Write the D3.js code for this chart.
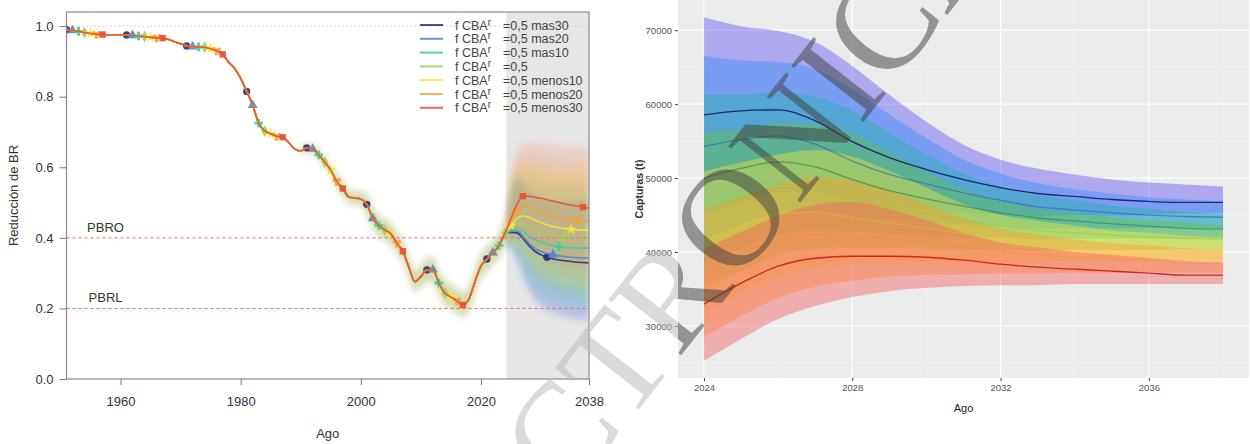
<!DOCTYPE html>
<html>
<head>
<meta charset="utf-8">
<script src="https://cdn.jsdelivr.net/npm/d3@7"></script>
<style>
  html, body { margin: 0; padding: 0; background: #fff; }
  svg { display: block; }
</style>
</head>
<body>
<svg id="chart" width="1250" height="444"></svg>
<script>
// ---------------- Data: relative spawning biomass (left panel) ----------------
const histYears = d3.range(1951, 2025);
const histValues = [
  0.990, 0.988, 0.985, 0.982, 0.979, 0.977, 0.976, 0.975, 0.975, 0.975,
  0.975, 0.974, 0.972, 0.970, 0.968, 0.967, 0.966, 0.962, 0.956, 0.950,
  0.944, 0.942, 0.941, 0.940, 0.936, 0.930, 0.920, 0.898, 0.880, 0.852,
  0.815, 0.776, 0.725, 0.703, 0.695, 0.688, 0.685, 0.670, 0.652, 0.646,
  0.655, 0.652, 0.635, 0.615, 0.592, 0.560, 0.540, 0.516, 0.513, 0.510,
  0.495, 0.455, 0.435, 0.422, 0.412, 0.385, 0.362, 0.317, 0.276, 0.290,
  0.309, 0.310, 0.272, 0.244, 0.232, 0.222, 0.210, 0.226, 0.275, 0.320,
  0.340, 0.358, 0.378, 0.412
];

// uncertainty band around the assessed history (1990-2024)
const histBandYears = d3.range(1990, 2025);
const histBandLow = [
  0.634, 0.643, 0.640, 0.623, 0.603, 0.580, 0.540, 0.520, 0.496, 0.493,
  0.492, 0.465, 0.425, 0.405, 0.392, 0.382, 0.355, 0.332, 0.287, 0.246,
  0.260, 0.274, 0.275, 0.237, 0.209, 0.197, 0.187, 0.175, 0.191, 0.240,
  0.285, 0.305, 0.323, 0.343, 0.377
];
const histBandHigh = [
  0.658, 0.667, 0.664, 0.647, 0.627, 0.604, 0.580, 0.560, 0.536, 0.533,
  0.532, 0.525, 0.485, 0.465, 0.452, 0.442, 0.415, 0.392, 0.347, 0.306,
  0.320, 0.344, 0.345, 0.307, 0.279, 0.267, 0.257, 0.245, 0.261, 0.310,
  0.355, 0.375, 0.393, 0.413, 0.447
];

// projections 2024-2038 for each harvest scenario
const projYears = d3.range(2024, 2039);
const brMas30   = [0.412, 0.415, 0.414, 0.398, 0.378, 0.362, 0.352, 0.345, 0.340, 0.337, 0.335, 0.333, 0.331, 0.330, 0.329];
const brMas20   = [0.412, 0.418, 0.420, 0.405, 0.385, 0.370, 0.362, 0.356, 0.352, 0.349, 0.347, 0.345, 0.344, 0.343, 0.343];
const brMas10   = [0.412, 0.422, 0.428, 0.420, 0.405, 0.395, 0.388, 0.382, 0.378, 0.375, 0.373, 0.372, 0.371, 0.371, 0.371];
const brBase    = [0.412, 0.428, 0.440, 0.440, 0.432, 0.424, 0.417, 0.412, 0.408, 0.405, 0.403, 0.402, 0.401, 0.400, 0.400];
const brMenos10 = [0.412, 0.435, 0.455, 0.462, 0.458, 0.450, 0.443, 0.437, 0.432, 0.429, 0.426, 0.424, 0.423, 0.422, 0.422];
const brMenos20 = [0.412, 0.445, 0.475, 0.490, 0.488, 0.482, 0.475, 0.468, 0.462, 0.457, 0.453, 0.450, 0.448, 0.447, 0.446];
const brMenos30 = [0.412, 0.455, 0.495, 0.518, 0.518, 0.515, 0.512, 0.508, 0.504, 0.500, 0.496, 0.493, 0.490, 0.487, 0.484];

const brLowMas30   = [0.382, 0.365, 0.334, 0.288, 0.248, 0.222, 0.204, 0.192, 0.183, 0.177, 0.173, 0.169, 0.166, 0.164, 0.163];
const brLowMas20   = [0.382, 0.368, 0.340, 0.295, 0.255, 0.230, 0.214, 0.203, 0.195, 0.189, 0.185, 0.181, 0.179, 0.177, 0.177];
const brLowMas10   = [0.382, 0.372, 0.348, 0.310, 0.275, 0.255, 0.240, 0.229, 0.221, 0.215, 0.211, 0.208, 0.206, 0.205, 0.205];
const brLowBase    = [0.382, 0.378, 0.360, 0.330, 0.302, 0.284, 0.269, 0.259, 0.251, 0.245, 0.241, 0.238, 0.236, 0.234, 0.234];
const brLowMenos10 = [0.382, 0.385, 0.375, 0.352, 0.328, 0.310, 0.295, 0.284, 0.275, 0.269, 0.264, 0.260, 0.258, 0.256, 0.256];
const brLowMenos20 = [0.382, 0.395, 0.395, 0.380, 0.358, 0.342, 0.327, 0.315, 0.305, 0.297, 0.291, 0.286, 0.283, 0.281, 0.280];
const brLowMenos30 = [0.382, 0.405, 0.415, 0.408, 0.388, 0.375, 0.364, 0.355, 0.347, 0.340, 0.334, 0.329, 0.325, 0.321, 0.318];

const brHighMas30   = [0.442, 0.535, 0.564, 0.548, 0.530, 0.517, 0.509, 0.505, 0.502, 0.501, 0.501, 0.501, 0.501, 0.501, 0.501];
const brHighMas20   = [0.442, 0.538, 0.570, 0.555, 0.537, 0.525, 0.519, 0.516, 0.514, 0.513, 0.513, 0.513, 0.514, 0.514, 0.515];
const brHighMas10   = [0.442, 0.542, 0.578, 0.570, 0.557, 0.550, 0.545, 0.542, 0.540, 0.539, 0.539, 0.540, 0.541, 0.542, 0.543];
const brHighBase    = [0.442, 0.548, 0.590, 0.590, 0.584, 0.579, 0.574, 0.572, 0.570, 0.569, 0.569, 0.570, 0.571, 0.571, 0.572];
const brHighMenos10 = [0.442, 0.555, 0.605, 0.612, 0.610, 0.605, 0.600, 0.597, 0.594, 0.593, 0.592, 0.592, 0.593, 0.593, 0.594];
const brHighMenos20 = [0.442, 0.565, 0.625, 0.640, 0.640, 0.637, 0.632, 0.628, 0.624, 0.621, 0.619, 0.618, 0.618, 0.618, 0.618];
const brHighMenos30 = [0.442, 0.575, 0.645, 0.668, 0.670, 0.670, 0.669, 0.668, 0.666, 0.664, 0.662, 0.661, 0.660, 0.658, 0.656];

const refLevels = [0.4, 0.2];
const refLabels = ["PBRO", "PBRL"];
const xTicksLeft = [1960, 1980, 2000, 2020, 2038];
const yTicksLeft = [0, 0.2, 0.4, 0.6, 0.8, 1.0];

// ---------------- Data: projected catches (right panel) ----------------
const catchYears = d3.range(2024, 2039);
const catchMas30   = [58550, 59090, 59230, 57740, 54920, 52760, 51150, 49800, 48720, 47910, 47510, 47100, 46840, 46700, 46700];
const catchMas20   = [54300, 55200, 55700, 54600, 52300, 50500, 49200, 48000, 47000, 46100, 45700, 45300, 45000, 44800, 44700];
const catchMas10   = [50000, 51300, 52200, 51500, 49800, 48300, 47200, 46200, 45300, 44600, 44200, 43800, 43500, 43200, 43100];
const catchBase    = [45800, 47400, 48700, 48400, 47200, 46100, 45200, 44300, 43500, 42900, 42600, 42300, 42000, 41800, 41700];
const catchMenos10 = [41500, 43600, 45100, 45400, 44600, 43900, 43200, 42500, 41800, 41300, 41000, 40600, 40400, 40100, 40100];
const catchMenos20 = [37200, 39700, 41600, 42300, 42000, 41700, 41300, 40700, 40100, 39600, 39300, 39000, 38800, 38500, 38500];
const catchMenos30 = [32960, 35790, 38080, 39160, 39430, 39430, 39290, 38890, 38350, 37950, 37680, 37410, 37140, 36870, 36870];

const catchLowMas30   = [44900, 46600, 48100, 48200, 47200, 46400, 45700, 45300, 45100, 44800, 45000, 44900, 45000, 45200, 45200];
const catchLowMas20   = [41700, 43600, 45300, 45600, 45000, 44500, 44000, 43700, 43500, 43100, 43200, 43200, 43200, 43300, 43200];
const catchLowMas10   = [38400, 40500, 42400, 43000, 42800, 42500, 42200, 42000, 42000, 41700, 41800, 41800, 41800, 41800, 41700];
const catchLowBase    = [35100, 37400, 39600, 40400, 40600, 40600, 40400, 40300, 40300, 40200, 40300, 40300, 40300, 40400, 40300];
const catchLowMenos10 = [31800, 34400, 36600, 37900, 38400, 38600, 38600, 38700, 38700, 38700, 38800, 38700, 38800, 38800, 38800];
const catchLowMenos20 = [28500, 31300, 33800, 35300, 36100, 36700, 36900, 37000, 37100, 37100, 37200, 37200, 37300, 37200, 37200];
const catchLowMenos30 = [25290, 28250, 30940, 32690, 33910, 34710, 35120, 35390, 35520, 35520, 35660, 35660, 35660, 35660, 35660];

const catchHighMas30   = [71750, 70540, 69870, 68380, 65150, 61250, 57610, 54510, 52490, 51280, 50470, 49800, 49390, 49120, 48860];
const catchHighMas20   = [66500, 65900, 65700, 64700, 62000, 58600, 55400, 52500, 50600, 49300, 48500, 47900, 47400, 47100, 46800];
const catchHighMas10   = [61300, 61200, 61600, 61000, 59100, 56100, 53200, 50600, 48800, 47700, 47000, 46300, 45900, 45400, 45100];
const catchHighBase    = [56100, 56600, 57400, 57300, 56000, 53500, 50900, 48500, 46900, 45900, 45300, 44700, 44300, 44000, 43600];
const catchHighMenos10 = [50900, 52100, 53200, 53800, 52900, 51000, 48700, 46500, 45000, 44200, 43600, 42900, 42600, 42200, 42000];
const catchHighMenos20 = [45600, 47400, 49100, 50100, 49800, 48400, 46500, 44600, 43200, 42400, 41700, 41200, 40900, 40500, 40300];
const catchHighMenos30 = [40400, 42700, 44900, 46400, 46800, 45800, 44300, 42600, 41300, 40600, 40000, 39600, 39200, 38800, 38600];

const xTicksRight = [2024, 2028, 2032, 2036];
const xMinorRight = [2026, 2030, 2034, 2038];
const yTicksRight = [30000, 40000, 50000, 60000, 70000];
const yMinorRight = [25000, 35000, 45000, 55000, 65000];

// ---------------- Scenario metadata ----------------
const scenarioKeys = ["mas30", "mas20", "mas10", "base", "menos10", "menos20", "menos30"];
const legendSuffix = ["=0,5 mas30", "=0,5 mas20", "=0,5 mas10", "=0,5", "=0,5 menos10", "=0,5 menos20", "=0,5 menos30"];
const leftColors  = ["#2b2d7c", "#4a86d4", "#33d1a3", "#9ad45c", "#efe83a", "#f5a234", "#e5512f"];
const fanColors   = ["#3a40d0", "#3a8ae0", "#2cc8b0", "#86cc44", "#f0e040", "#f7a030", "#f06040"];
const bandColors  = ["#5a4ff5", "#2f8cf5", "#1fb3a6", "#66c23d", "#f5e63a", "#fb9a2a", "#f55a5a"];
const rightLines  = ["#1c1f6e", "#2b5fb5", "#2e8b57", "#8cbf3f", "#e6d32e", "#f0962a", "#c8221a"];
const rightLineOpacity = [0.95, 0.6, 0.7, 0.35, 0.3, 0.35, 0.95];
const markerShapes = [d3.symbolCircle, d3.symbolTriangle, d3.symbolCross, d3.symbolDiamond,
                      d3.symbolStar, d3.symbolWye, d3.symbolSquare];

const brProj  = [brMas30, brMas20, brMas10, brBase, brMenos10, brMenos20, brMenos30];
const brLow   = [brLowMas30, brLowMas20, brLowMas10, brLowBase, brLowMenos10, brLowMenos20, brLowMenos30];
const brHigh  = [brHighMas30, brHighMas20, brHighMas10, brHighBase, brHighMenos10, brHighMenos20, brHighMenos30];
const catchMid  = [catchMas30, catchMas20, catchMas10, catchBase, catchMenos10, catchMenos20, catchMenos30];
const catchLow  = [catchLowMas30, catchLowMas20, catchLowMas10, catchLowBase, catchLowMenos10, catchLowMenos20, catchLowMenos30];
const catchHigh = [catchHighMas30, catchHighMas20, catchHighMas10, catchHighBase, catchHighMenos10, catchHighMenos20, catchHighMenos30];

const watermarkText = "ELECTRONICA";

// ---------------- Drawing ----------------
const svg = d3.select("#chart");
const defs = svg.append("defs");
defs.append("filter").attr("id", "soft")
  .attr("x", "-10%").attr("y", "-10%").attr("width", "120%").attr("height", "120%")
  .append("feGaussianBlur").attr("stdDeviation", 3);
defs.append("clipPath").attr("id", "clipLeftPlot")
  .append("rect").attr("x", 66).attr("y", 12).attr("width", 523).attr("height", 367);

const sansFont = "'Liberation Sans', Arial, sans-serif";

// ===== Left panel =====
const L = { left: 66.5, right: 589, top: 12, bottom: 379 };
const xL = d3.scaleLinear().domain([1951, 2038]).range([L.left, L.right]);
const yL = d3.scaleLinear().domain([0, 1.04]).range([L.bottom, L.top]);
const gL = svg.append("g");

// projection period shading
const projShadeStart = 2024.25;
gL.append("rect")
  .attr("x", xL(projShadeStart)).attr("y", L.top)
  .attr("width", xL(2038) - xL(projShadeStart)).attr("height", L.bottom - L.top)
  .attr("fill", "#e6e6e6");

// dotted line at the unfished level
gL.append("line")
  .attr("x1", L.left).attr("x2", L.right).attr("y1", yL(1)).attr("y2", yL(1))
  .attr("stroke", "#c8c8c8").attr("stroke-dasharray", "1.5,2.5");

const plotL = gL.append("g").attr("clip-path", "url(#clipLeftPlot)");

// historical uncertainty band
const histBandArea = d3.area()
  .x((d, i) => xL(histBandYears[i]))
  .y0((d, i) => yL(histBandLow[i]))
  .y1((d, i) => yL(histBandHigh[i]))
  .curve(d3.curveMonotoneX);
plotL.append("path").datum(histBandYears)
  .attr("d", histBandArea)
  .attr("fill", "#b4be70").attr("opacity", 0.55)
  .attr("filter", "url(#soft)");

// projection fans
const fanG = plotL.append("g").attr("filter", "url(#soft)");
scenarioKeys.forEach((k, s) => {
  const area = d3.area()
    .x((d, i) => xL(projYears[i]))
    .y0((d, i) => yL(brLow[s][i]))
    .y1((d, i) => yL(brHigh[s][i]))
    .curve(d3.curveMonotoneX);
  fanG.append("path").datum(projYears)
    .attr("d", area).attr("fill", fanColors[s]).attr("opacity", 0.16);
});

// reference points
refLevels.forEach((v, i) => {
  gL.append("line")
    .attr("x1", L.left).attr("x2", L.right).attr("y1", yL(v)).attr("y2", yL(v))
    .attr("stroke", "#e06a6a").attr("stroke-width", 1).attr("stroke-dasharray", "3,3");
  gL.append("text")
    .attr("x", xL(1957.5)).attr("y", yL(v) - 6)
    .attr("font-family", sansFont).attr("font-size", 13).attr("fill", "#333")
    .attr("text-anchor", "middle").text(refLabels[i]);
});

// scenario lines (history + projection) and markers
const lineL = d3.line().x(d => xL(d[0])).y(d => yL(d[1])).curve(d3.curveMonotoneX);
scenarioKeys.forEach((k, s) => {
  const pts = histYears.map((yr, i) => [yr, histValues[i]])
    .concat(projYears.slice(1).map((yr, i) => [yr, brProj[s][i + 1]]));
  plotL.append("path").datum(pts)
    .attr("d", lineL).attr("fill", "none")
    .attr("stroke", leftColors[s]).attr("stroke-width", 1.6).attr("opacity", 0.9);
  const lookup = new Map(pts);
  const sym = d3.symbol().type(markerShapes[s]).size(42);
  d3.range(1951 + s, 2039, 10).forEach(yr => {
    plotL.append("path")
      .attr("d", sym)
      .attr("transform", `translate(${xL(yr)},${yL(lookup.get(yr))})`)
      .attr("fill", leftColors[s]).attr("opacity", 0.9);
  });
});

// frame
gL.append("rect")
  .attr("x", L.left).attr("y", L.top).attr("width", L.right - L.left).attr("height", L.bottom - L.top)
  .attr("fill", "none").attr("stroke", "#8a8a8a").attr("stroke-width", 1.2);

// axes
const axB = gL.append("g").attr("transform", `translate(0,${L.bottom})`)
  .call(d3.axisBottom(xL).tickValues(xTicksLeft).tickFormat(d3.format("d")).tickSize(6).tickPadding(12));
const axLft = gL.append("g").attr("transform", `translate(${L.left},0)`)
  .call(d3.axisLeft(yL).tickValues(yTicksLeft).tickFormat(d3.format(".1f")).tickSize(7).tickPadding(6));
[axB, axLft].forEach(ax => {
  ax.select(".domain").remove();
  ax.selectAll(".tick line").attr("stroke", "#777");
  ax.selectAll(".tick text").attr("font-family", sansFont).attr("font-size", 13).attr("fill", "#333");
});

gL.append("text")
  .attr("x", (L.left + L.right) / 2).attr("y", 438)
  .attr("text-anchor", "middle").attr("font-family", sansFont).attr("font-size", 13).attr("fill", "#333")
  .text("Ago");
gL.append("text")
  .attr("transform", `translate(18,${(L.top + L.bottom) / 2}) rotate(-90)`)
  .attr("text-anchor", "middle").attr("font-family", sansFont).attr("font-size", 13).attr("fill", "#333")
  .text("Reducción de BR");

// legend
const legG = gL.append("g");
scenarioKeys.forEach((k, s) => {
  const yRow = 25 + s * 13.8;
  legG.append("line")
    .attr("x1", 420).attr("x2", 443).attr("y1", yRow).attr("y2", yRow)
    .attr("stroke", leftColors[s]).attr("stroke-width", 2).attr("opacity", 0.85);
  const t = legG.append("text")
    .attr("x", 455).attr("y", yRow + 4.5)
    .attr("font-family", sansFont).attr("font-size", 12.5).attr("fill", "#444");
  t.append("tspan").text("f CBA");
  t.append("tspan").attr("dy", -4).attr("font-size", 10).text("r");
  legG.append("text")
    .attr("x", 503).attr("y", yRow + 4.5)
    .attr("font-family", sansFont).attr("font-size", 12.5).attr("fill", "#444")
    .text(legendSuffix[s]);
});

// ===== Right panel =====
const R = { left: 678, right: 1249, top: 0, bottom: 378 };
const xR = d3.scaleLinear()
  .domain([d3.min(catchYears) - 0.7, d3.max(catchYears) + 0.7])
  .range([R.left, R.right]);
const cMin = d3.min(catchLow.flat()), cMax = d3.max(catchHigh.flat());
const pad = (cMax - cMin) * 0.05;
const yR = d3.scaleLinear().domain([cMin - pad, cMax + pad]).range([R.bottom, R.top]);
const gR = svg.append("g");

gR.append("rect")
  .attr("x", R.left).attr("y", R.top).attr("width", R.right - R.left).attr("height", R.bottom - R.top)
  .attr("fill", "#ebebeb");
yMinorRight.forEach(v => gR.append("line")
  .attr("x1", R.left).attr("x2", R.right).attr("y1", yR(v)).attr("y2", yR(v))
  .attr("stroke", "#f4f4f4").attr("stroke-width", 0.6));
xMinorRight.forEach(v => gR.append("line")
  .attr("y1", R.top).attr("y2", R.bottom).attr("x1", xR(v)).attr("x2", xR(v))
  .attr("stroke", "#f4f4f4").attr("stroke-width", 0.6));
yTicksRight.forEach(v => gR.append("line")
  .attr("x1", R.left).attr("x2", R.right).attr("y1", yR(v)).attr("y2", yR(v))
  .attr("stroke", "#fff").attr("stroke-width", 1.1));
xTicksRight.forEach(v => gR.append("line")
  .attr("y1", R.top).attr("y2", R.bottom).attr("x1", xR(v)).attr("x2", xR(v))
  .attr("stroke", "#fff").attr("stroke-width", 1.1));

scenarioKeys.forEach((k, s) => {
  const area = d3.area()
    .x((d, i) => xR(catchYears[i]))
    .y0((d, i) => yR(catchLow[s][i]))
    .y1((d, i) => yR(catchHigh[s][i]))
    .curve(d3.curveMonotoneX);
  gR.append("path").datum(catchYears)
    .attr("d", area).attr("fill", bandColors[s]).attr("opacity", 0.42);
});
scenarioKeys.forEach((k, s) => {
  const line = d3.line()
    .x((d, i) => xR(catchYears[i]))
    .y((d, i) => yR(catchMid[s][i]))
    .curve(d3.curveMonotoneX);
  gR.append("path").datum(catchYears)
    .attr("d", line).attr("fill", "none")
    .attr("stroke", rightLines[s]).attr("stroke-width", 1.3).attr("opacity", rightLineOpacity[s]);
});

const axRB = gR.append("g").attr("transform", `translate(0,${R.bottom})`)
  .call(d3.axisBottom(xR).tickValues(xTicksRight).tickFormat(d3.format("d")).tickSize(3).tickPadding(3));
const axRL = gR.append("g").attr("transform", `translate(${R.left},0)`)
  .call(d3.axisLeft(yR).tickValues(yTicksRight).tickFormat(d3.format("d")).tickSize(3).tickPadding(3));
[axRB, axRL].forEach(ax => {
  ax.select(".domain").remove();
  ax.selectAll(".tick line").attr("stroke", "#444");
  ax.selectAll(".tick text").attr("font-family", sansFont).attr("font-size", 9.5).attr("fill", "#555");
});
gR.append("text")
  .attr("x", (R.left + R.right) / 2).attr("y", 412)
  .attr("text-anchor", "middle").attr("font-family", sansFont).attr("font-size", 11).attr("fill", "#222")
  .text("Ago");
gR.append("text")
  .attr("transform", `translate(643,${(R.top + R.bottom) / 2}) rotate(-90)`)
  .attr("text-anchor", "middle").attr("font-family", sansFont).attr("font-size", 10.5)
  .attr("font-weight", "bold").attr("fill", "#333")
  .text("Capturas (t)");

// ===== Watermark =====
defs.append("clipPath").attr("id", "clipRightPanel")
  .append("rect").attr("x", R.left).attr("y", R.top).attr("width", R.right - R.left).attr("height", R.bottom - R.top);
defs.append("clipPath").attr("id", "clipOutside")
  .append("path").attr("clip-rule", "evenodd")
  .attr("d", `M0,0H1250V444H0Z M${R.left},${R.top}V${R.bottom}H${R.right}V${R.top}Z`);
const wmTransform = "translate(672,290) rotate(-52)";
[["url(#clipOutside)", "#bcbcbc", 0.55], ["url(#clipRightPanel)", "#3e3e3e", 0.5]].forEach(([clip, fill, op]) => {
  svg.append("g").attr("clip-path", clip)
    .append("text")
    .attr("transform", wmTransform)
    .attr("text-anchor", "middle").attr("dominant-baseline", "central")
    .attr("font-family", "'Liberation Serif', 'Times New Roman', serif")
    .attr("font-size", 140).attr("fill", fill).attr("opacity", op)
    .text(watermarkText);
});
</script>
</body>
</html>
